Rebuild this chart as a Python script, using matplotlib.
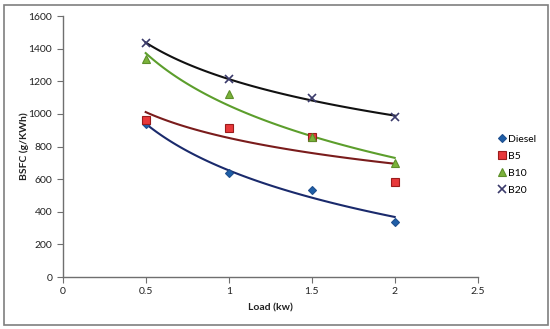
import numpy as np
import matplotlib.pyplot as plt
from matplotlib.patches import Rectangle

plt.rcParams['font.family'] = ['Lato', 'DejaVu Sans']

load = [0.5, 1.0, 1.5, 2.0]
diesel = [940, 635, 535, 340]
b5 = [960, 915, 860, 585]
b10 = [1340, 1120, 860, 700]
b20 = [1435, 1215, 1095, 980]

fig = plt.figure(figsize=(5.5, 3.29), dpi=100)
fig.patches.append(Rectangle((0.008, 0.012), 0.988, 0.972, transform=fig.transFigure,
                             fill=False, edgecolor='#7f7f7f', linewidth=1.2))
ax = fig.add_axes([0.114, 0.158, 0.7545, 0.793])

series = [
    ('Diesel', diesel, 'D', '#1f5fa8', '#1f4f8f', '#1a2a6c', 4.5),
    ('B5', b5, 's', '#e8383a', '#9b1c1c', '#7a1c1c', 6),
    ('B10', b10, '^', '#7bb23a', '#5d8f2a', '#5c9e2c', 6),
    ('B20', b20, 'x', '#3b3b6b', '#3b3b6b', '#111111', 6),
]

x = np.array(load)
xs = np.linspace(x.min(), x.max(), 100)
for name, y, m, fc, ec, lc, ms in series:
    # logarithmic trendline like Excel
    b, a = np.polyfit(np.log(x), y, 1)
    ax.plot(xs, a + b * np.log(xs), color=lc, linewidth=1.5, zorder=2)
for name, y, m, fc, ec, lc, ms in series:
    ax.plot(load, y, linestyle='none', marker=m, markersize=ms, markerfacecolor=fc,
            markeredgecolor=ec, markeredgewidth=1.2 if m == 'x' else 0.8,
            label=name, zorder=3)

ax.set_xlim(0, 2.5)
ax.set_ylim(0, 1600)
ax.set_xticks([0, 0.5, 1, 1.5, 2, 2.5])
ax.set_xticklabels(['0', '0.5', '1', '1.5', '2', '2.5'])
ax.set_yticks(range(0, 1601, 200))
for s in ['top', 'right']:
    ax.spines[s].set_visible(False)
for s in ['left', 'bottom']:
    ax.spines[s].set_color('#6f6f6f')
    ax.spines[s].set_linewidth(1)
ax.tick_params(labelsize=7.5, colors='#6f6f6f', labelcolor='#222222', length=4, direction='out')
ax.set_xlabel('Load (kw)', fontsize=7.5, fontweight='bold', color='#222222', labelpad=5)
ax.set_ylabel('BSFC (g/KWh)', fontsize=7.5, fontweight='bold', color='#222222', labelpad=0)

ax.legend(loc='center left', bbox_to_anchor=(1.04, 0.43), frameon=False, fontsize=7.5,
          handlelength=0.6, handletextpad=0.3, labelspacing=0.75, borderaxespad=0)

fig.savefig('out.png', dpi=100)
